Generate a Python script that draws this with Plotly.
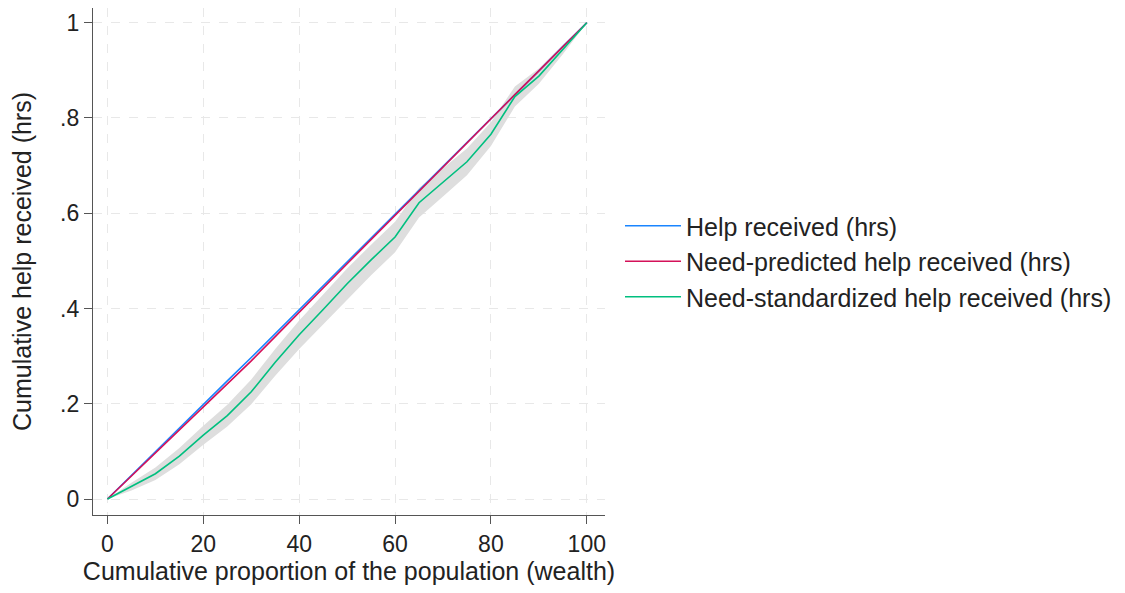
import plotly.graph_objects as go

# Cumulative proportion of the population (wealth), percent
pop_pct = [0, 5, 10, 15, 20, 25, 30, 35, 40, 45, 50, 55, 60, 65, 70, 75, 80, 85, 90, 95, 100]

help_received = [0, 0.050, 0.100, 0.149, 0.199, 0.248, 0.297, 0.347, 0.397, 0.447, 0.497,
                 0.547, 0.598, 0.648, 0.698, 0.749, 0.799, 0.849, 0.899, 0.950, 1.0]
need_predicted = [0, 0.048, 0.096, 0.144, 0.193, 0.241, 0.290, 0.341, 0.393, 0.443, 0.494,
                  0.545, 0.596, 0.647, 0.698, 0.748, 0.799, 0.849, 0.899, 0.950, 1.0]
need_standardized = [0, 0.026, 0.053, 0.090, 0.134, 0.175, 0.225, 0.287, 0.345, 0.398, 0.452,
                     0.502, 0.550, 0.622, 0.665, 0.708, 0.766, 0.845, 0.888, 0.944, 1.0]
ci_lower = [0, 0.018, 0.040, 0.073, 0.114, 0.152, 0.199, 0.259, 0.315, 0.367, 0.420,
            0.470, 0.518, 0.591, 0.635, 0.680, 0.741, 0.824, 0.872, 0.934, 1.0]
ci_upper = [0, 0.034, 0.066, 0.107, 0.154, 0.198, 0.251, 0.315, 0.375, 0.429, 0.484,
            0.534, 0.582, 0.653, 0.695, 0.736, 0.791, 0.866, 0.904, 0.954, 1.0]

x_ticks = [0, 20, 40, 60, 80, 100]
y_ticks = [0, 0.2, 0.4, 0.6, 0.8, 1.0]
y_tick_labels = ["0", ".2", ".4", ".6", ".8", "1"]

names = ["Help received (hrs)", "Need-predicted help received (hrs)",
         "Need-standardized help received (hrs)"]
colors = ["#1A85FF", "#D41159", "#00BF7F"]

fig = go.Figure()
fig.add_trace(go.Scatter(x=pop_pct, y=ci_lower, mode="lines", line=dict(width=0, color="#dedede"),
                         showlegend=False, hoverinfo="skip", legendgroup="band"))
fig.add_trace(go.Scatter(x=pop_pct, y=ci_upper, mode="lines", line=dict(width=0, color="#dedede"),
                         fill="tonexty", fillcolor="#dedede", showlegend=False, hoverinfo="skip",
                         legendgroup="band"))
for i, (name, ys, c) in enumerate(zip(names, [help_received, need_predicted, need_standardized], colors)):
    fig.add_trace(go.Scatter(x=pop_pct, y=ys, mode="lines", name=name, legendgroup=f"g{i}",
                             line=dict(color=c, width=1.6)))

axis_common = dict(
    showline=True, linecolor="#555555", linewidth=1.3,
    ticks="outside", ticklen=8, tickcolor="#555555", tickwidth=1.3,
    showgrid=True, gridcolor="#e8e8e8", griddash="dash", gridwidth=1,
    zeroline=False, tickfont=dict(size=23, color="#222222"), automargin=False,
)
fig.update_xaxes(range=[-3.02, 103.8], tickvals=x_ticks,
                 title=dict(text="Cumulative proportion of the population (wealth)",
                            font=dict(size=25, color="#222222"), standoff=19),
                 **axis_common)
fig.update_yaxes(range=[-0.0336, 1.0309], tickvals=y_ticks, ticktext=y_tick_labels,
                 title=dict(text="Cumulative help received (hrs)",
                            font=dict(size=25, color="#222222"), standoff=22),
                 **axis_common)

fig.update_layout(
    width=1109, height=577,
    margin=dict(l=85, r=512, t=0, b=70),
    paper_bgcolor="white", plot_bgcolor="white",
    font=dict(family="Liberation Sans, Arial, sans-serif", size=20, color="#222222"),
    showlegend=True,
    legend=dict(x=1.03, y=0.5, xanchor="left", yanchor="middle", traceorder="grouped",
                tracegroupgap=0, font=dict(size=25), itemwidth=56, bgcolor="rgba(0,0,0,0)"),
)

fig.write_html("out.html")
